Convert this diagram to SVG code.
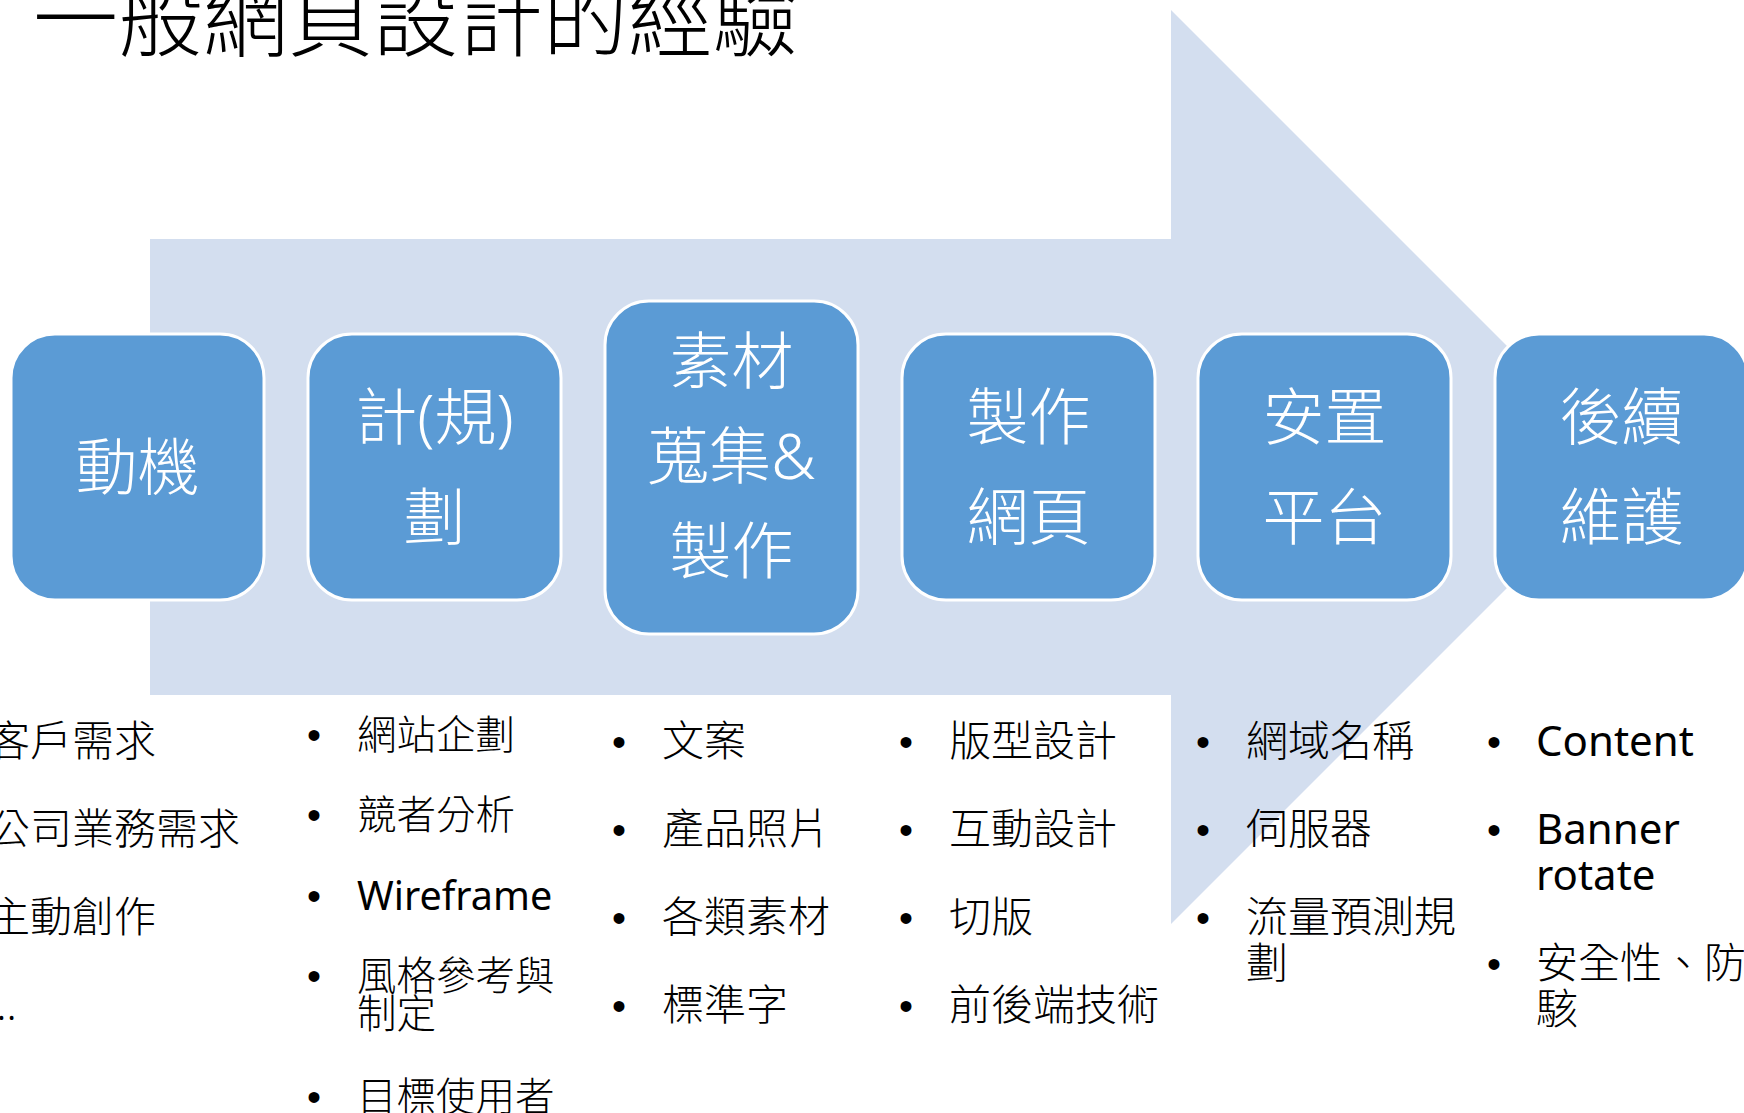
<svg xmlns="http://www.w3.org/2000/svg" width="1744" height="1113" viewBox="0 0 1744 1113">
  <style>
    .box { fill: #5B9BD5; stroke: #FFFFFF; stroke-width: 3; }
    .lbl { font-family: "Noto Sans", "Noto Sans CJK TC", sans-serif; font-size: 62px; font-weight: 300; fill: #FFFFFF; text-anchor: middle; }
    .item { font-family: "Noto Sans", "Noto Sans CJK TC", sans-serif; font-size: 42px; font-weight: 300; fill: #000000; }
    .latin { font-weight: 400; }
    .small { font-size: 39.5px; }
    .bul { font-family: "Liberation Sans", sans-serif; font-size: 40px; fill: #000000; text-anchor: middle; }
    .title { font-family: "Noto Sans CJK TC", sans-serif; font-size: 85px; font-weight: 300; fill: #000000; }
  </style>
  <rect width="1744" height="1113" fill="#FFFFFF"/>
  <text id="title" class="title" x="33" y="50">一般網頁設計的經驗</text>
  <g id="connectors">
    <polygon points="150,239 1171,239 1171,10 1628,467 1171,924 1171,695 150,695" fill="#D3DEEF"/>
  </g>
  <g id="node-1">
    <rect class="box" x="11" y="334" width="253" height="266" rx="44"/>
    <text class="lbl" x="137.5" y="490">動機</text>
  </g>
  <g id="node-2">
    <rect class="box" x="308" y="334" width="253" height="266" rx="44"/>
    <text class="lbl" x="434.5" y="440">計(規)</text>
    <text class="lbl" x="434.5" y="540">劃</text>
  </g>
  <g id="node-3">
    <rect class="box" x="605" y="301" width="253" height="333" rx="44"/>
    <text class="lbl" x="731.5" y="384">素材</text>
    <text class="lbl" x="731.5" y="479">蒐集&amp;</text>
    <text class="lbl" x="731.5" y="574">製作</text>
  </g>
  <g id="node-4">
    <rect class="box" x="902" y="334" width="253" height="266" rx="44"/>
    <text class="lbl" x="1028.5" y="440">製作</text>
    <text class="lbl" x="1028.5" y="540">網頁</text>
  </g>
  <g id="node-5">
    <rect class="box" x="1198" y="334" width="253" height="266" rx="44"/>
    <text class="lbl" x="1324.5" y="440">安置</text>
    <text class="lbl" x="1324.5" y="540">平台</text>
  </g>
  <g id="node-6">
    <rect class="box" x="1495" y="334" width="253" height="266" rx="44"/>
    <text class="lbl" x="1621.5" y="440">後續</text>
    <text class="lbl" x="1621.5" y="540">維護</text>
  </g>
  <g id="list-1">
    <text class="item" x="-12" y="756">客戶需求</text>
    <text class="item" x="-12" y="844">公司業務需求</text>
    <text class="item" x="-12" y="932">主動創作</text>
    <text class="item" x="-14" y="1020">…</text>
  </g>
  <g id="list-2">
    <text class="bul" x="314" y="749">•</text><text class="item small" x="357" y="749">網站企劃</text>
    <text class="bul" x="314" y="829">•</text><text class="item small" x="357" y="829">競者分析</text>
    <text class="bul" x="314" y="910">•</text><text class="item small latin" x="357" y="910">Wireframe</text>
    <text class="bul" x="314" y="990">•</text><text class="item small" x="357" y="990">風格參考與</text>
    <text class="item small" x="357" y="1028">制定</text>
    <text class="bul" x="314" y="1111">•</text><text class="item small" x="357" y="1111">目標使用者</text>
  </g>
  <g id="list-3">
    <text class="bul" x="619" y="756">•</text><text class="item" x="662" y="756">文案</text>
    <text class="bul" x="619" y="844">•</text><text class="item" x="662" y="844">產品照片</text>
    <text class="bul" x="619" y="932">•</text><text class="item" x="662" y="932">各類素材</text>
    <text class="bul" x="619" y="1020">•</text><text class="item" x="662" y="1020">標準字</text>
  </g>
  <g id="list-4">
    <text class="bul" x="906" y="756">•</text><text class="item" x="949" y="756">版型設計</text>
    <text class="bul" x="906" y="844">•</text><text class="item" x="949" y="844">互動設計</text>
    <text class="bul" x="906" y="932">•</text><text class="item" x="949" y="932">切版</text>
    <text class="bul" x="906" y="1020">•</text><text class="item" x="949" y="1020">前後端技術</text>
  </g>
  <g id="list-5">
    <text class="bul" x="1203" y="756">•</text><text class="item" x="1246" y="756">網域名稱</text>
    <text class="bul" x="1203" y="844">•</text><text class="item" x="1246" y="844">伺服器</text>
    <text class="bul" x="1203" y="932">•</text><text class="item" x="1246" y="932">流量預測規</text>
    <text class="item" x="1246" y="978">劃</text>
  </g>
  <g id="list-6">
    <text class="bul" x="1494" y="756">•</text><text class="item latin" x="1536" y="756">Content</text>
    <text class="bul" x="1494" y="844">•</text><text class="item latin" x="1536" y="844">Banner</text>
    <text class="item latin" x="1536" y="890">rotate</text>
    <text class="bul" x="1494" y="978">•</text><text class="item" x="1536" y="978">安全性、防</text>
    <text class="item" x="1536" y="1024">駭</text>
  </g>
</svg>
